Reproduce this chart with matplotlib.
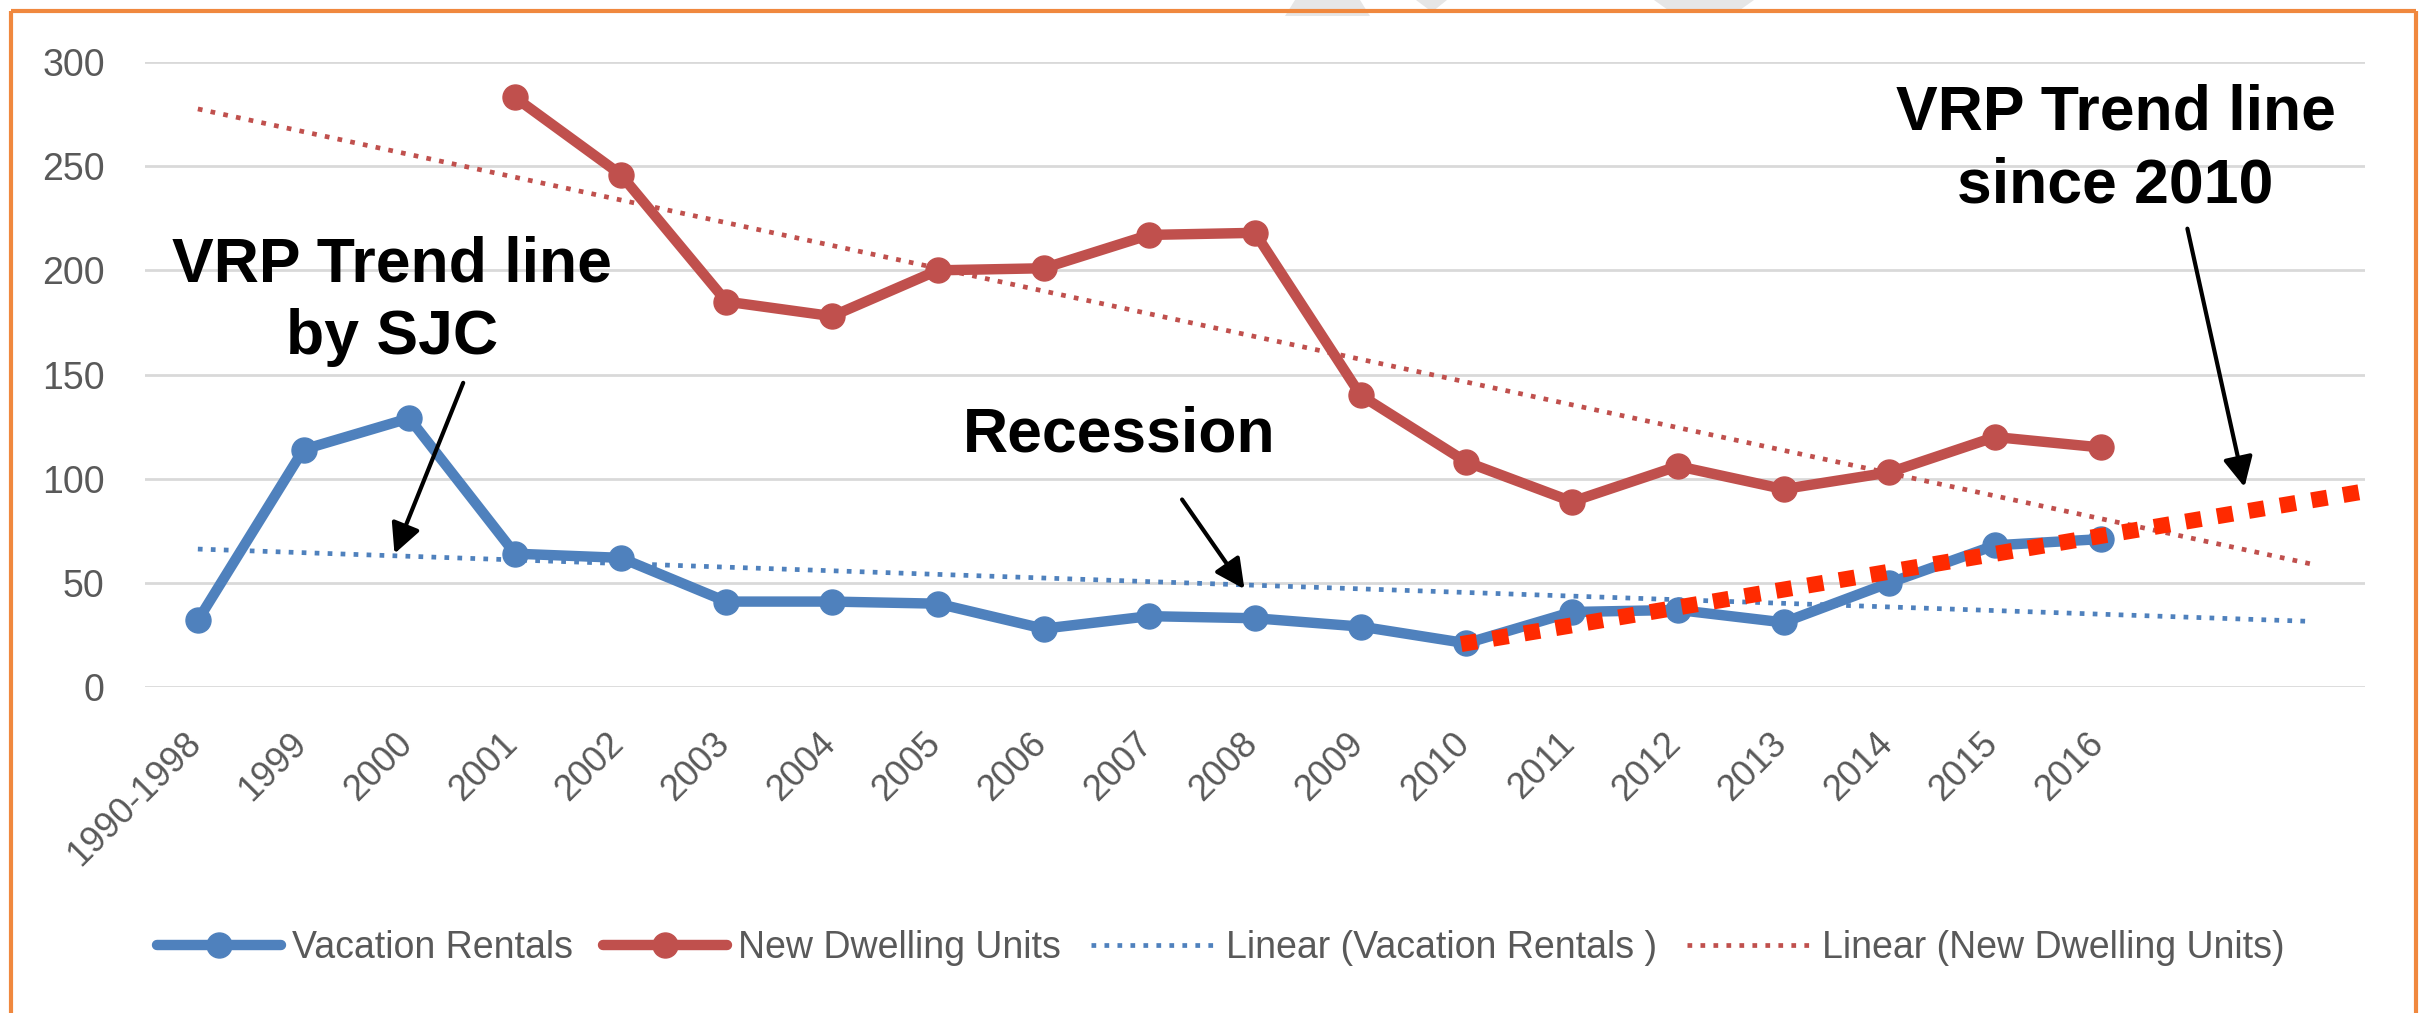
import numpy as np
import matplotlib.pyplot as plt
from matplotlib.lines import Line2D
from matplotlib.patches import Polygon
from matplotlib.transforms import ScaledTranslation

# categories on the x axis (two empty slots on the right for the trend forecast)
YEARS = ["1990-1998", "1999", "2000", "2001", "2002", "2003", "2004", "2005", "2006",
         "2007", "2008", "2009", "2010", "2011", "2012", "2013", "2014", "2015", "2016"]
FORECAST_SLOTS = 2

VACATION_RENTALS = [32, 114, 129, 64, 62, 41, 41, 40, 28, 34, 33, 29, 21, 36, 37, 31, 50, 68, 71]
# new dwelling units start in 2001
NEW_DWELLINGS = [None, None, None, 283, 246, 185, 178, 200, 201, 217, 218, 140, 108, 89, 106, 95, 103, 120, 115]

# hand drawn "since 2010" line (category index, value)
SINCE2010_X = [11.95, 20.46]
SINCE2010_Y = [20.6, 93.6]

# annotation texts: (text position), (arrow tail), (arrow tip)
SJC_TEXT = (1.84, 185)
SJC_ARROW = ((2.51, 146), (1.86, 64))
RECESSION_TEXT = (8.72, 121)
RECESSION_ARROW = ((9.31, 90), (9.90, 47))
SINCE_TEXT = (18.14, 258)
SINCE_ARROW = ((18.82, 220), (19.36, 96))

BLUE = "#4F81BD"
RED = "#C0504D"
GREY_TXT = "#595959"
GRID = "#D9D9D9"
ORANGE = "#F0883E"

plt.rcParams["font.family"] = ["Liberation Sans", "DejaVu Sans"]

W, H = 2426, 1013
fig = plt.figure(figsize=(W / 100, H / 100), dpi=100)
fig.patch.set_facecolor("white")

ax = fig.add_axes([145 / W, 1 - 687 / H, (2365 - 145) / W, (687 - 62) / H])
ax.set_facecolor("none")

n = len(YEARS)
x = np.arange(n)
vr = np.array(VACATION_RENTALS, dtype=float)
nd = np.array([np.nan if v is None else v for v in NEW_DWELLINGS], dtype=float)

ax.plot(x, vr, color=BLUE, lw=7.5, marker="o", markersize=18, zorder=4,
        clip_on=False, solid_capstyle="round", solid_joinstyle="round", label="Vacation Rentals")
ax.plot(x, nd, color=RED, lw=7.5, marker="o", markersize=18, zorder=4,
        clip_on=False, solid_capstyle="round", solid_joinstyle="round", label="New Dwelling Units")

# linear trendlines, fitted like excel does on the category index, with forecast
xt = np.arange(n + FORECAST_SLOTS)
ok = ~np.isnan(vr)
k, b = np.polyfit(x[ok], vr[ok], 1)
ax.plot(xt, k * xt + b, color=BLUE, lw=3.4, linestyle=(0, (1.0, 1.75)), zorder=3,
        label="Linear (Vacation Rentals )")
ok = ~np.isnan(nd)
k, b = np.polyfit(x[ok], nd[ok], 1)
ax.plot(xt, k * xt + b, color=RED, lw=3.4, linestyle=(0, (1.0, 1.75)), zorder=3,
        label="Linear (New Dwelling Units)")

# the thick red dashed line drawn on top
ax.plot(SINCE2010_X, SINCE2010_Y, color="#FF2A00", lw=11.5, linestyle=(0, (1.0, 1.0)),
        dash_capstyle="butt", zorder=6, clip_on=False)

ax.set_xlim(-0.5, n + FORECAST_SLOTS - 0.5)
ax.set_ylim(0, 300)
ax.set_yticks(np.arange(0, 301, 50))
ax.grid(axis="y", color=GRID, lw=2.0, zorder=0)
ax.set_axisbelow(True)
for s in ax.spines.values():
    s.set_visible(False)
ax.tick_params(length=0)
ax.tick_params(axis="y", labelsize=27, labelcolor=GREY_TXT, pad=29)
ax.set_xticks(x)
ax.set_xticklabels(YEARS, rotation=45, ha="right", va="top", fontsize=26, color=GREY_TXT)
ax.tick_params(axis="x", pad=28)
offset = ScaledTranslation(0.10, 0, fig.dpi_scale_trans)
for lab in ax.get_xticklabels():
    lab.set_transform(lab.get_transform() + offset)

# annotations
bold = dict(fontsize=45, fontweight="bold", color="black", ha="center", va="center",
            linespacing=1.3, zorder=7)
ax.text(*SJC_TEXT, "VRP Trend line\nby SJC", **bold)
ax.text(*RECESSION_TEXT, "Recession", **bold)
ax.text(*SINCE_TEXT, "VRP Trend line\nsince 2010", **bold)
arrow = dict(arrowstyle="-|>,head_length=0.4,head_width=0.2", color="black", lw=3,
             mutation_scale=45, shrinkA=0, shrinkB=0)
for tail, tip in (SJC_ARROW, RECESSION_ARROW, SINCE_ARROW):
    ax.annotate("", xy=tip, xytext=tail, arrowprops=arrow, annotation_clip=False, zorder=7)

# legend
handles, labels = ax.get_legend_handles_labels()
leg = fig.legend(handles, labels, loc="center", bbox_to_anchor=(1221 / W, 1 - 948 / H),
                 ncol=4, frameon=False, fontsize=27, handlelength=3.3, handletextpad=0.3,
                 columnspacing=0.8)
for t in leg.get_texts():
    t.set_color(GREY_TXT)

# faint grey shapes peeking in at the top edge
for pts in ([(1295, 0), (1360, 0), (1370, 16), (1285, 16)],
            [(1416, 0), (1447, 0), (1432, 12)],
            [(1654, 0), (1754, 0), (1740, 10), (1668, 10)]):
    fig.add_artist(Polygon([(px, H - py) for px, py in pts], closed=True, transform=None,
                           facecolor="#E6E6E6", edgecolor="none", zorder=0))

# orange frame around the chart (bottom edge is off the picture)
frame = dict(color=ORANGE, lw=3, solid_capstyle="butt", transform=None)
fig.add_artist(Line2D([11, 11], [0, H - 10.5], **frame))
fig.add_artist(Line2D([11, 2416], [H - 10.5, H - 10.5], **frame))
fig.add_artist(Line2D([2416, 2416], [0, H - 10.5], **frame))

fig.savefig("out.png", dpi=100)
